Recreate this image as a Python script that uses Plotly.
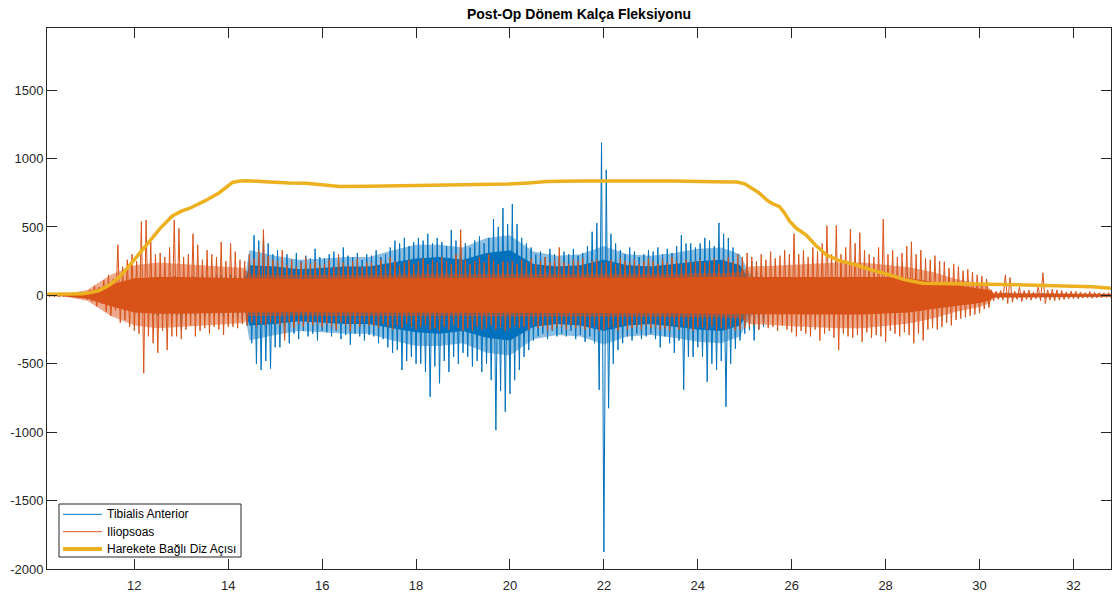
import plotly.graph_objects as go

# ---------------- data ----------------
# EMG traces: per 0.1 s bin, the upper and lower extreme of the signal
T_START = 10.15
T_STEP = 0.1

TA_MAX = [
    5, 6, 5, 7, 6, 5, 8, 10, 12,                                   # 10.15-10.95
    20, 35, 30, 55, 60, 75, 70, 95, 90, 110,                       # 11.x
    110, 120, 115, 130, 120, 140, 130, 120, 140, 130,              # 12.x
    130, 120, 140, 130, 150, 140, 130, 150, 150, 140,              # 13.x
    150, 140, 160, 180, 300, 440, 400, 440, 380, 300,              # 14.x
    330, 280, 300, 260, 310, 250, 290, 270, 340, 280,              # 15.x
    270, 300, 320, 260, 350, 290, 280, 310, 260, 300,              # 16.x
    290, 330, 280, 300, 350, 400, 380, 420, 360, 390,              # 17.x
    420, 400, 450, 380, 420, 390, 360, 478, 400, 350,              # 18.x
    380, 350, 400, 430, 380, 420, 558, 500, 638, 520,              # 19.x
    668, 520, 420, 380, 350, 300, 320, 280, 340, 300,              # 20.x
    280, 320, 300, 340, 290, 310, 360, 465, 528, 1116,             # 21.x
    917, 450, 380, 330, 300, 350, 320, 280, 300, 330,              # 22.x
    320, 350, 300, 340, 310, 360, 440, 380, 380, 350,              # 23.x
    380, 420, 400, 360, 530, 450, 420, 350, 300, 260,              # 24.x
    200, 250, 180, 150, 100, 90, 80, 90, 100, 90,                  # 25.x
    80, 90, 70, 85, 75, 90, 80, 70, 85, 80,                        # 26.x
    75, 80, 70, 85, 80, 75, 70, 80, 75, 70,                        # 27.x
    70, 75, 65, 70, 80, 70, 65, 70, 60, 65,                        # 28.x
    60, 55, 60, 50, 55, 50, 45, 50, 40, 35,                        # 29.x
    30, 25, 15, 14, 15, 18, 16, 14, 15, 13,                        # 30.x
    14, 12, 15, 16, 13, 14, 12, 13, 12, 11,                        # 31.x
    12, 11, 10, 12, 10, 9, 10, 9,                                  # 32.05-32.75
]
TA_MIN = [
    -5, -6, -5, -7, -6, -5, -8, -10, -12,
    -25, -30, -45, -50, -70, -65, -85, -90, -100, -110,
    -120, -130, -120, -140, -150, -130, -140, -150, -150, -255,
    -140, -130, -150, -140, -150, -140, -130, -150, -160, -150,
    -160, -170, -180, -220, -350, -500, -545, -480, -535, -380,
    -380, -300, -350, -280, -320, -260, -300, -280, -330, -260,
    -270, -300, -260, -320, -290, -360, -280, -300, -330, -290,
    -300, -350, -320, -380, -420, -400, -545, -480, -450, -500,
    -500, -560, -742, -520, -643, -480, -560, -450, -500, -420,
    -450, -520, -480, -560, -500, -620, -985, -700, -850, -720,
    -620, -546, -450, -400, -330, -300, -280, -320, -260, -300,
    -280, -300, -260, -320, -290, -340, -300, -350, -690, -1876,
    -825, -500, -400, -350, -300, -330, -280, -320, -300, -280,
    -320, -380, -300, -350, -420, -330, -690, -450, -450, -380,
    -450, -632, -500, -545, -480, -815, -500, -390, -330, -280,
    -255, -330, -250, -230, -100, -90, -80, -90, -100, -90,
    -80, -90, -70, -85, -75, -90, -80, -70, -85, -80,
    -75, -80, -70, -85, -80, -75, -70, -80, -75, -70,
    -70, -75, -65, -70, -80, -70, -65, -70, -60, -65,
    -60, -55, -60, -50, -55, -50, -45, -50, -40, -35,
    -30, -25, -15, -14, -15, -18, -16, -14, -15, -13,
    -14, -12, -15, -16, -13, -14, -12, -13, -12, -11,
    -12, -11, -10, -12, -10, -9, -10, -9,
]
ILIO_MAX = [
    8, 10, 9, 12, 10, 11, 14, 18, 25,
    40, 70, 60, 110, 150, 120, 370, 210, 260, 300,
    250, 540, 550, 390, 300, 310, 280, 350, 550, 490,
    280, 300, 450, 370, 260, 330, 300, 280, 390, 250,
    380, 320, 260, 250, 300, 270, 330, 480, 290, 260,
    250, 330, 220, 260, 210, 240, 280, 230, 250, 220,
    230, 260, 210, 300, 240, 220, 250, 270, 210, 240,
    240, 220, 260, 230, 280, 250, 220, 240, 260, 230,
    250, 270, 230, 260, 240, 280, 250, 230, 300, 480,
    260, 230, 250, 280, 240, 300, 260, 230, 250, 240,
    250, 230, 260, 240, 270, 230, 250, 280, 240, 260,
    350, 240, 230, 260, 250, 270, 230, 250, 260, 240,
    240, 260, 230, 270, 250, 240, 260, 230, 250, 270,
    250, 230, 260, 240, 280, 250, 230, 260, 240, 250,
    260, 240, 250, 270, 230, 260, 280, 250, 300, 280,
    310, 280, 250, 300, 260, 320, 270, 290, 330, 300,
    450, 300, 330, 280, 350, 320, 380, 510, 300, 510,
    300, 350, 485, 380, 458, 330, 300, 280, 350, 558,
    300, 330, 280, 310, 360, 392, 300, 330, 270, 260,
    290, 250, 246, 200, 230, 210, 180, 190, 170, 150,
    140, 120, 40, 30, 35, 150, 130, 30, 60, 35,
    40, 25, 60, 165, 40, 45, 40, 35, 25, 30,
    30, 25, 20, 28, 22, 20, 18, 20,
]
ILIO_MIN = [
    -8, -9, -10, -9, -11, -12, -15, -20, -30,
    -45, -80, -60, -120, -150, -110, -200, -180, -230, -260,
    -280, -570, -300, -350, -420, -260, -400, -300, -300, -320,
    -250, -220, -300, -260, -240, -280, -230, -250, -290, -230,
    -230, -240, -210, -220, -200, -230, -210, -220, -200, -210,
    -220, -330, -200, -240, -210, -230, -200, -220, -210, -230,
    -210, -230, -250, -200, -220, -260, -210, -230, -200, -220,
    -220, -240, -210, -230, -250, -220, -240, -210, -230, -250,
    -230, -220, -250, -240, -260, -230, -250, -220, -240, -260,
    -240, -260, -230, -250, -240, -220, -250, -230, -260, -240,
    -220, -240, -230, -250, -220, -240, -230, -260, -250, -230,
    -230, -250, -220, -240, -230, -250, -240, -230, -260, -250,
    -240, -230, -260, -220, -250, -240, -230, -250, -220, -240,
    -230, -250, -240, -260, -220, -250, -230, -240, -260, -230,
    -240, -250, -230, -260, -240, -250, -230, -260, -250, -240,
    -230, -220, -250, -210, -240, -230, -260, -220, -250, -270,
    -300, -260, -280, -300, -250, -330, -280, -260, -310, -400,
    -280, -300, -310, -290, -340, -270, -310, -290, -300, -340,
    -260, -280, -300, -270, -290, -350, -280, -330, -250, -240,
    -250, -230, -200, -220, -180, -170, -160, -150, -140, -130,
    -100, -90, -40, -30, -35, -60, -50, -30, -45, -30,
    -35, -25, -40, -60, -35, -40, -35, -30, -25, -25,
    -25, -20, -20, -22, -18, -18, -15, -18,
]

# envelope times for the solid core and the dense (partly filled) zone
CORE_T = [10.14, 10.5, 11.0, 11.5, 12.0, 12.5, 13.0, 13.5, 14.0, 14.35,
          14.45, 15.0, 15.5, 16.0, 16.5, 17.0, 17.5, 18.0, 18.5, 19.0,
          19.5, 20.0, 20.5, 21.0, 21.5, 22.0, 22.5, 23.0, 23.5, 24.0,
          24.5, 24.9, 25.1, 25.5, 26.0, 26.5, 27.0, 27.5, 28.0, 28.5,
          29.0, 29.5, 30.0, 30.2, 30.3, 30.5, 31.0, 31.5, 32.0, 32.5, 32.8]
TA_CORE = [3, 3, 15, 40, 60, 70, 75, 80, 90, 100,
           220, 210, 190, 200, 210, 210, 240, 270, 280, 260,
           310, 330, 230, 210, 220, 260, 220, 210, 230, 250,
           260, 220, 110, 50, 45, 45, 45, 45, 40, 40,
           35, 30, 25, 20, 8, 8, 8, 8, 7, 7, 7]
TA_DENSE = [3, 3, 20, 50, 80, 90, 95, 100, 110, 120,
            330, 290, 260, 270, 280, 280, 330, 370, 370, 350,
            420, 440, 320, 290, 300, 360, 300, 290, 310, 340,
            350, 300, 160, 60, 50, 50, 50, 50, 45, 45,
            40, 35, 30, 25, 10, 10, 10, 10, 9, 9, 9]
ILIO_CORE = [5, 6, 25, 80, 125, 135, 135, 130, 130, 125,
             125, 125, 120, 125, 125, 125, 125, 130, 130, 130,
             125, 125, 125, 130, 130, 130, 130, 130, 130, 135,
             135, 135, 135, 135, 135, 140, 140, 140, 135, 125,
             100, 75, 55, 40, 14, 12, 12, 12, 10, 8, 8]
ILIO_DENSE = [6, 8, 40, 150, 220, 240, 230, 220, 210, 200,
              150, 150, 145, 150, 150, 150, 150, 155, 155, 155,
              150, 150, 150, 155, 155, 155, 155, 155, 155, 160,
              160, 170, 210, 215, 225, 235, 240, 240, 225, 205,
              170, 120, 85, 60, 20, 18, 18, 16, 14, 12, 12]

# knee angle curve (thick yellow)
ANGLE_T = [10.14, 10.5, 10.9, 11.04, 11.25, 11.47, 11.7, 11.89, 12.1, 12.32,
           12.55, 12.81, 13.0, 13.17, 13.5, 13.81, 14.0, 14.09, 14.25, 14.39,
           14.7, 14.94, 15.3, 15.66, 16.0, 16.37, 17.0, 17.65, 18.71, 19.4,
           19.97, 20.4, 20.78, 21.5, 22.19, 23.0, 23.5, 24.32, 24.83, 25.0,
           25.1, 25.3, 25.47, 25.6, 25.74, 25.85, 25.96, 26.1, 26.31, 26.5,
           26.74, 27.0, 27.38, 27.7, 28.09, 28.4, 28.79, 29.2, 29.86, 30.5,
           31.28, 31.99, 32.4, 32.8]
ANGLE_V = [8, 8, 12, 18, 35, 75, 140, 215, 300, 395,
           490, 580, 615, 635, 690, 750, 800, 825, 835, 838,
           832, 827, 822, 819, 805, 795, 798, 802, 805, 808,
           814, 822, 832, 836, 838, 838, 836, 831, 828, 815,
           795, 750, 697, 668, 648, 600, 540, 490, 441, 370,
           295, 255, 222, 185, 149, 115, 88, 84, 83, 80,
           75, 70, 62, 51]

X_TICKS = [12, 14, 16, 18, 20, 22, 24, 26, 28, 30, 32]
Y_TICKS = [-2000, -1500, -1000, -500, 0, 500, 1000, 1500]

TITLE = "Post-Op Dönem Kalça Fleksiyonu"
NAMES = ["Tibialis Anterior", "Iliopsoas", "Harekete Bağlı Diz Açısı"]


def zigzag(maxs, mins):
    xs, ys = [], []
    for i, (hi, lo) in enumerate(zip(maxs, mins)):
        t = T_START + i * T_STEP
        xs += [t, t + T_STEP / 2]
        ys += [hi, lo]
    return xs, ys


def band(ts, half):
    xs = list(ts) + list(reversed(ts))
    ys = list(half) + [-v for v in reversed(half)]
    return xs, ys


BLUE = "#0072BD"
ORANGE = "#D95319"
YELLOW = "#EDB120"
BLUE_SOFT = "rgba(0,114,189,0.45)"
ORANGE_SOFT = "rgba(217,83,25,0.5)"
AX = "#262626"
FONT = "Liberation Sans, Arial, sans-serif"
COLORS = [BLUE, ORANGE, YELLOW]
WIDTHS = [1, 1, 4]

W, H = 1115, 596
ML, MR, MT, MB = 47, 4, 28, 27
PW, PH = W - ML - MR, H - MT - MB

fig = go.Figure()


def add_band(ts, half, color):
    xs, ys = band(ts, half)
    fig.add_trace(go.Scatter(x=xs, y=ys, mode="lines", fill="toself",
                             fillcolor=color, line=dict(width=0),
                             showlegend=False, hoverinfo="skip"))


add_band(CORE_T, TA_DENSE, BLUE_SOFT)
add_band(CORE_T, TA_CORE, BLUE)
x1, y1 = zigzag(TA_MAX, TA_MIN)
fig.add_trace(go.Scatter(x=x1, y=y1, mode="lines", name=NAMES[0],
                         line=dict(color=BLUE, width=1)))
add_band(CORE_T, ILIO_DENSE, ORANGE_SOFT)
add_band(CORE_T, ILIO_CORE, ORANGE)
x2, y2 = zigzag(ILIO_MAX, ILIO_MIN)
fig.add_trace(go.Scatter(x=x2, y=y2, mode="lines", name=NAMES[1],
                         line=dict(color=ORANGE, width=1)))
fig.add_trace(go.Scatter(x=ANGLE_T, y=ANGLE_V, mode="lines", name=NAMES[2],
                         line=dict(color=YELLOW, width=3.5)))


# MATLAB-style legend box (paper coordinates from pixel positions)
def px(xp):
    return (xp - ML) / PW


def py(yp):
    return (H - MB - yp) / PH


shapes = [dict(type="rect", xref="paper", yref="paper",
               x0=px(59), x1=px(241), y0=py(557), y1=py(504),
               line=dict(color=AX, width=1), fillcolor="white", layer="above")]
annotations = []
rows = [514.3, 531.7, 549.0]
for name, col, wd, ry in zip(NAMES, COLORS, WIDTHS, rows):
    shapes.append(dict(type="line", xref="paper", yref="paper",
                       x0=px(63), x1=px(102), y0=py(ry), y1=py(ry),
                       line=dict(color=col, width=wd), layer="above"))
    annotations.append(dict(text=name, xref="paper", yref="paper",
                            x=px(105), y=py(ry), xanchor="left",
                            yanchor="middle", showarrow=False,
                            font=dict(family=FONT, size=12, color="black")))

axis_common = dict(showgrid=False, zeroline=False, showline=True, linecolor=AX,
                   linewidth=1, mirror="ticks", ticks="inside", ticklen=10,
                   tickcolor=AX, tickwidth=1, automargin=False,
                   tickfont=dict(family=FONT, size=13, color=AX))

fig.update_layout(
    width=W, height=H,
    margin=dict(l=ML, r=MR, t=MT, b=MB, autoexpand=False),
    paper_bgcolor="white", plot_bgcolor="white",
    title=dict(text="<b>" + TITLE + "</b>", x=0.5, xref="paper",
               y=1 - 14 / H, yref="container", yanchor="middle",
               font=dict(family=FONT, size=14, color="black")),
    xaxis=dict(range=[10.14, 32.80], tickvals=X_TICKS,
               ticktext=[str(v) for v in X_TICKS], ticklabelstandoff=4,
               **axis_common),
    yaxis=dict(range=[-2000, 1954], tickvals=Y_TICKS,
               ticktext=[str(v) for v in Y_TICKS], **axis_common),
    showlegend=False,
    shapes=shapes,
    annotations=annotations,
)

fig.write_html("out.html", config={"displayModeBar": False},
               post_script="document.body.style.margin='0';"
                           "document.body.style.overflow='hidden';")
